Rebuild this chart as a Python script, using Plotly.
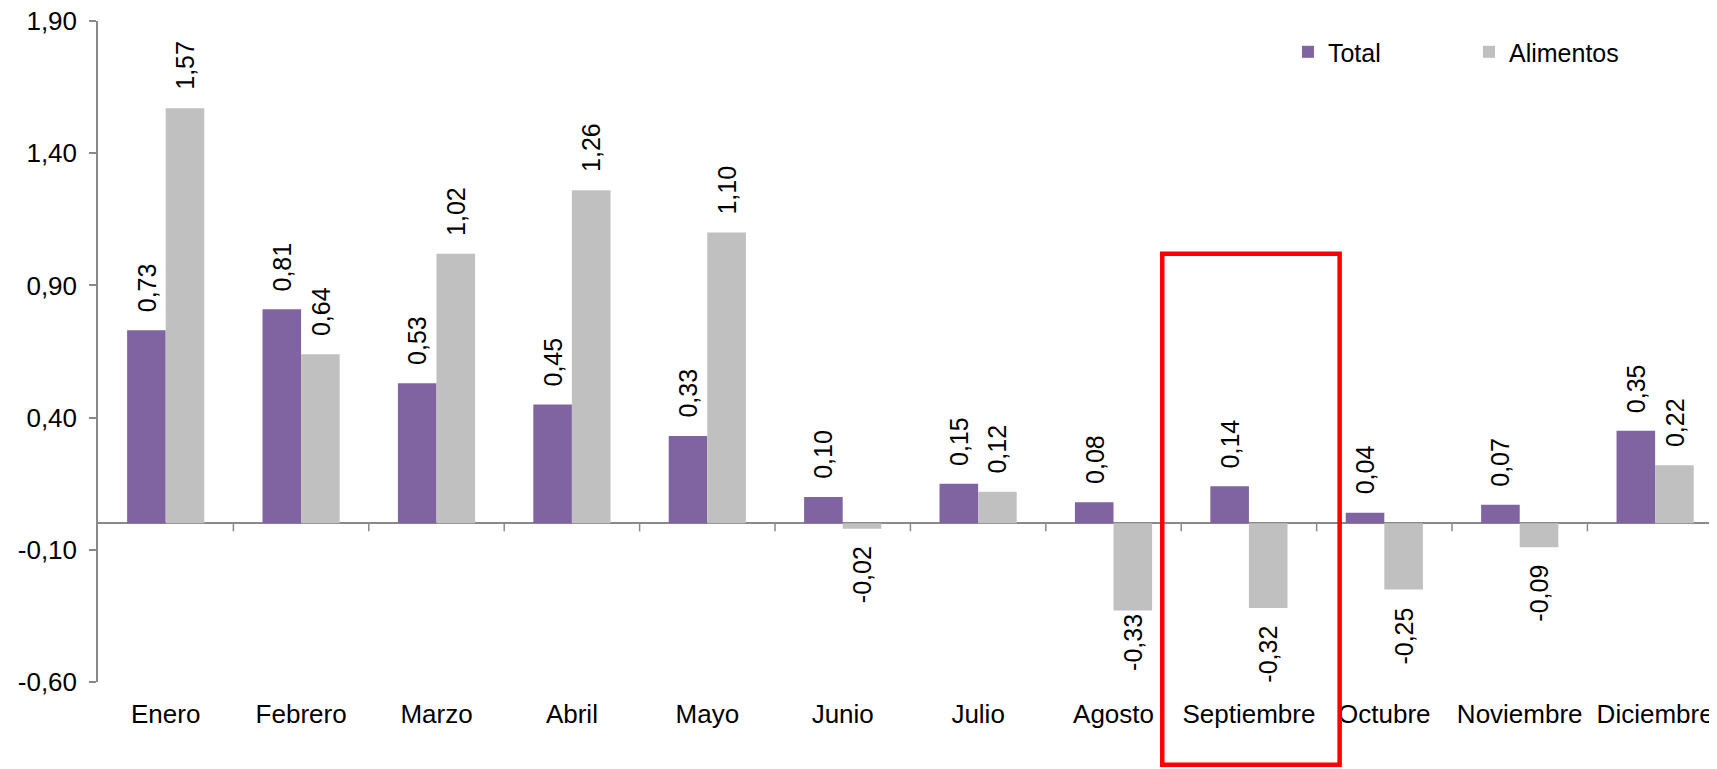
import plotly.graph_objects as go

# --- Daten ---
meses = ["Enero", "Febrero", "Marzo", "Abril", "Mayo", "Junio", "Julio",
         "Agosto", "Septiembre", "Octubre", "Noviembre", "Diciembre"]
total = [0.73, 0.81, 0.53, 0.45, 0.33, 0.10, 0.15, 0.08, 0.14, 0.04, 0.07, 0.35]
alimentos = [1.57, 0.64, 1.02, 1.26, 1.10, -0.02, 0.12, -0.33, -0.32, -0.25, -0.09, 0.22]
y_ticks = [-0.60, -0.10, 0.40, 0.90, 1.40, 1.90]

mes_destacado = "Septiembre"

FONT = "Liberation Sans, Arial, sans-serif"
MORADO = "#8064A2"
GRIS = "#C0C0C0"
EJE = "#898989"

# die Seite hat 8px Body-Rand -> Figur entsprechend kleiner
W, H = 1709, 761
ML, MT, MB = 90, 13, 87
x_range = [-0.5, 11.457]
y_range = [-0.6, 1.9]
bargap = 0.43
bar_w = (1 - bargap) / 2  # Breite einer Säule in Kategorie-Einheiten


def fmt(v):
    return f"{v:.2f}".replace(".", ",")


fig = go.Figure()
fig.add_trace(go.Bar(x=meses, y=total, name="Total",
                     marker=dict(color=MORADO, line=dict(width=0))))
fig.add_trace(go.Bar(x=meses, y=alimentos, name="Alimentos",
                     marker=dict(color=GRIS, line=dict(width=0))))

# Datenbeschriftungen (rotiert, außerhalb der Säule)
ajuste = {("Alimentos", "Agosto"): 15}  # Etikett näher an der Säule
for serie, vals, off in (("Total", total, -bar_w / 2), ("Alimentos", alimentos, bar_w / 2)):
    for i, v in enumerate(vals):
        gap = 16 - ajuste.get((serie, meses[i]), 0)
        fig.add_annotation(
            x=i + off, y=v, xref="x", yref="y",
            text=fmt(v), textangle=-90, showarrow=False,
            xanchor="center",
            yanchor="bottom" if v >= 0 else "top",
            yshift=gap if v >= 0 else -gap,
            font=dict(family=FONT, size=25, color="#000000"),
        )

# Achsenlinie bei 0 mit Teilstrichen zwischen den Kategorien
for i in range(len(meses)):
    fig.add_shape(type="line", xref="x", yref="y", x0=i + 0.5, x1=i + 0.5,
                  ysizemode="pixel", yanchor=0, y0=0, y1=-8,
                  line=dict(color=EJE, width=1.5))

# Roter Rahmen um den hervorgehobenen Monat
k = meses.index(mes_destacado)
span = x_range[1] - x_range[0]
fig.add_shape(type="rect", xref="paper", yref="paper",
              x0=(k - 0.64 - x_range[0]) / span, x1=(k + 0.67 - x_range[0]) / span,
              y0=-0.125, y1=(1.02 - y_range[0]) / (y_range[1] - y_range[0]),
              line=dict(color="#FF0000", width=4.5), layer="above")

fig.update_layout(
    width=W, height=H,
    margin=dict(l=ML, r=0, t=MT, b=MB, pad=0),
    template="none",
    plot_bgcolor="white", paper_bgcolor="white",
    barmode="group", bargap=bargap, bargroupgap=0,
    separators=",.",
    font=dict(family=FONT, size=26, color="#000000"),
    showlegend=True,
    legend=dict(orientation="h", x=0.735, xanchor="left", y=0.953, yanchor="middle",
                bgcolor="rgba(0,0,0,0)", font=dict(family=FONT, size=25),
                entrywidth=136, entrywidthmode="pixels", traceorder="normal"),
    xaxis=dict(range=x_range, showline=False, ticks="", showgrid=False,
               zeroline=False, tickfont=dict(size=26), ticklabelstandoff=14),
    yaxis=dict(range=y_range, tickvals=y_ticks, ticktext=[fmt(t) for t in y_ticks],
               showline=True, linecolor=EJE, linewidth=1.5,
               ticks="outside", ticklen=7, tickcolor=EJE, tickwidth=1.5,
               showgrid=False, zeroline=True, zerolinecolor=EJE, zerolinewidth=1.5,
               tickfont=dict(size=26), ticklabelstandoff=7,
               ticklabeloverflow="allow"),
)

fig.write_html("out.html")
